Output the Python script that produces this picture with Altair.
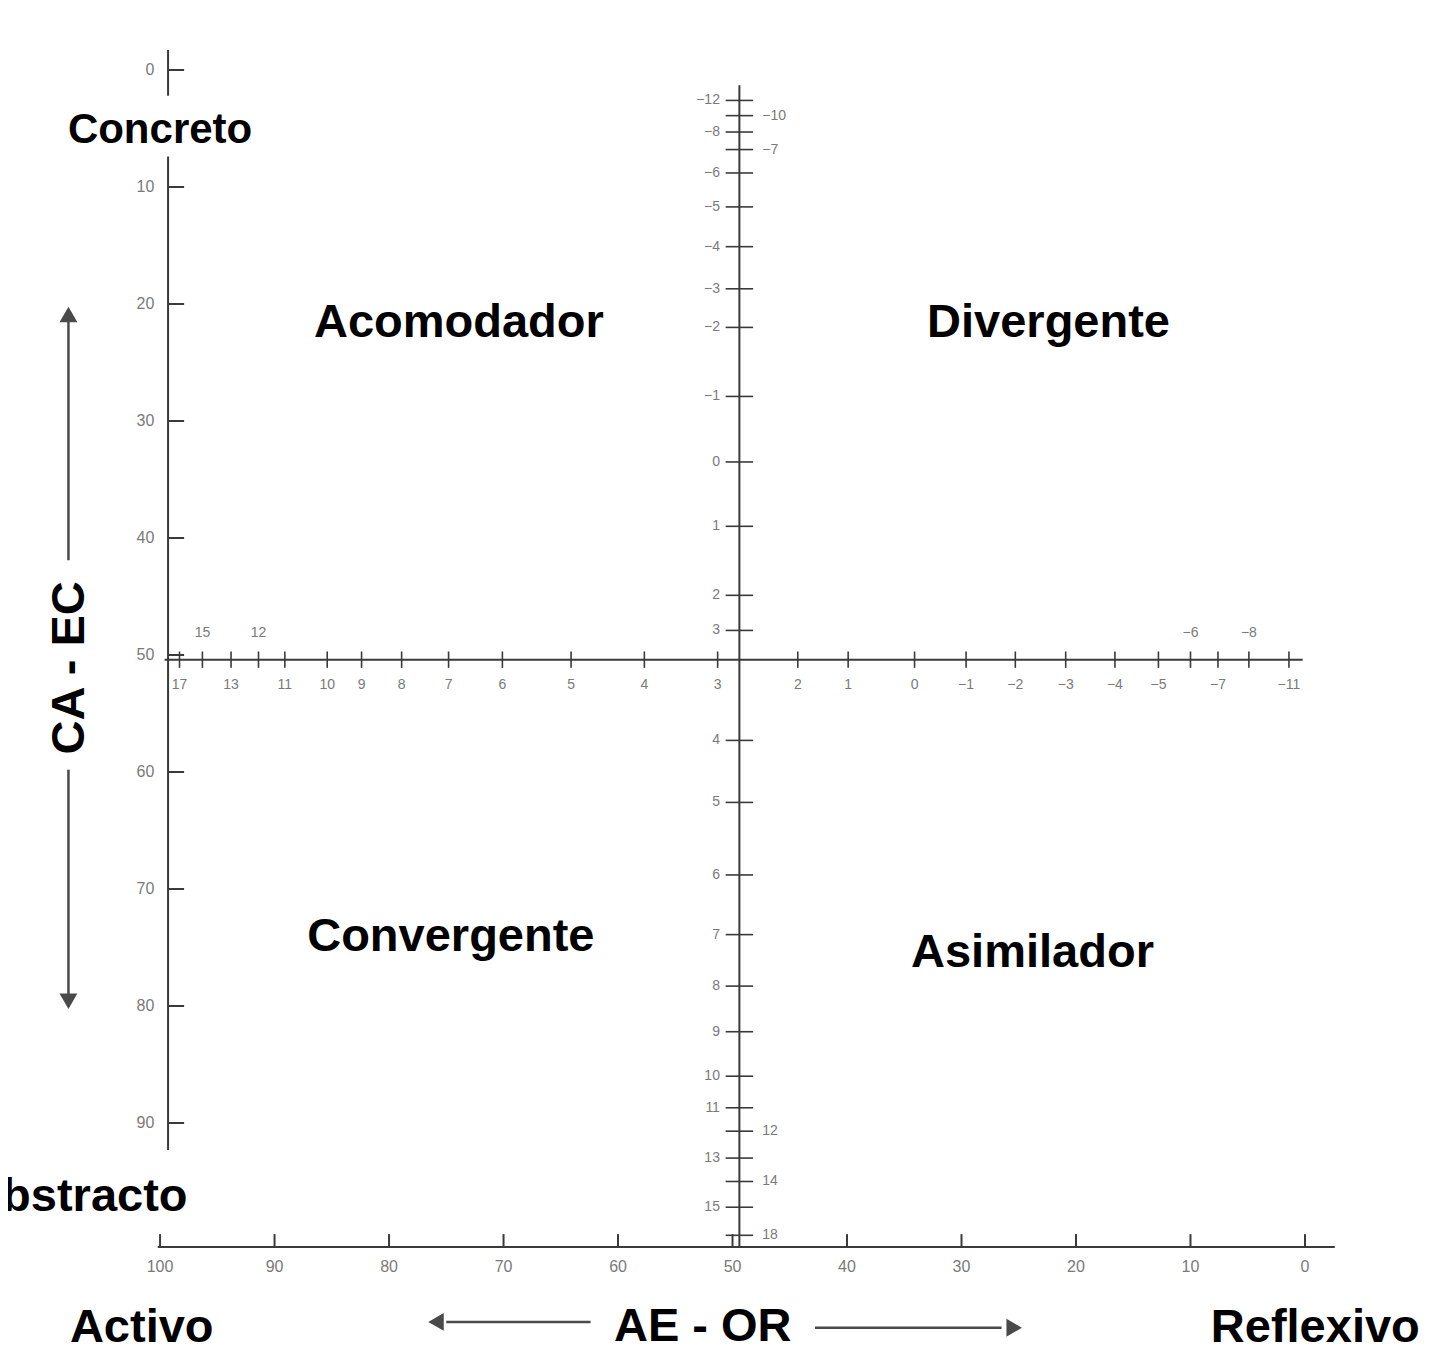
import altair as alt
import pandas as pd

# ---------------- data ----------------
# outer percentile scales
left_pct = [0, 10, 20, 30, 40, 50, 60, 70, 80, 90]          # CA-EC percentile (top -> bottom)
bottom_pct = [100, 90, 80, 70, 60, 50, 40, 30, 20, 10, 0]   # AE-OR percentile (left -> right)

# CA-EC raw scores on the central vertical axis and their percentile position
ca_ec_scores = [-12, -10, -8, -7, -6, -5, -4, -3, -2, -1, 0, 1, 2, 3,
                4, 5, 6, 7, 8, 9, 10, 11, 12, 13, 14, 15, 18]
ca_ec_pct = [2.6, 3.9, 5.3, 6.8, 8.8, 11.7, 15.1, 18.7, 22.0, 27.9, 33.5, 39.0, 44.9, 47.9,
             57.3, 62.6, 68.8, 73.9, 78.3, 82.2, 86.0, 88.7, 90.7, 93.0, 95.0, 97.2, 99.6]
ca_ec_side = ["L", "R", "L", "R", "L", "L", "L", "L", "L", "L", "L", "L", "L", "L",
              "L", "L", "L", "L", "L", "L", "L", "L", "R", "L", "R", "L", "R"]

# AE-OR raw scores on the central horizontal axis and their percentile position
ae_or_scores = [17, 15, 13, 12, 11, 10, 9, 8, 7, 6, 5, 4, 3, 2, 1, 0,
                -1, -2, -3, -4, -5, -6, -7, -8, -11]
ae_or_pct = [98.3, 96.3, 93.8, 91.4, 89.1, 85.4, 82.4, 78.9, 74.8, 70.1, 64.1, 57.7, 51.3,
             44.3, 39.9, 34.1, 29.6, 25.3, 20.9, 16.6, 12.8, 10.0, 7.6, 4.9, 1.4]
ae_or_side = ["B", "A", "B", "A", "B", "B", "B", "B", "B", "B", "B", "B", "B",
              "B", "B", "B", "B", "B", "B", "B", "B", "A", "B", "A", "B"]

quadrants = ["Acomodador", "Divergente", "Convergente", "Asimilador"]
quad_x = [73.9, 22.4, 74.6, 23.8]
quad_y = [21.6, 21.6, 74.1, 75.5]

# ---------------- scales ----------------
X_DOMAIN = [113.28, -10.22]
Y_DOMAIN = [110.6, -5.3]
xs = alt.Scale(domain=X_DOMAIN, nice=False, zero=False)
ys = alt.Scale(domain=Y_DOMAIN, nice=False, zero=False)
FONT = "Liberation Sans"
GRAY = "#7a7a7a"
LINE = "#3a3a3a"


def X(f="x"):
    return alt.X(f"{f}:Q", scale=xs, axis=None)


def Y(f="y"):
    return alt.Y(f"{f}:Q", scale=ys, axis=None)


def rules(df, color=LINE, width=2):
    return alt.Chart(df).mark_rule(color=color, strokeWidth=width).encode(
        x=X(), x2="x2:Q", y=Y(), y2="y2:Q")


def texts(df, size, color="black", bold=True, align="center", angle=0, baseline="middle"):
    kw = dict(fontSize=size, font=FONT, color=color, align=align, baseline=baseline,
              fontWeight="bold" if bold else "normal")
    if angle:
        kw["angle"] = angle
    return alt.Chart(df).mark_text(**kw).encode(x=X(), y=Y(), text="t:N")


layers = []

# outer left axis
AXL = 99.3
layers.append(rules(pd.DataFrame({"x": [AXL], "x2": [AXL], "y": [-1.7], "y2": [92.3]})))
layers.append(rules(pd.DataFrame({"x": [AXL] * len(left_pct), "x2": [97.9] * len(left_pct),
                                  "y": left_pct, "y2": left_pct})))
layers.append(texts(pd.DataFrame({"x": [100.5] * len(left_pct), "y": left_pct,
                                  "t": [str(v) for v in left_pct]}),
                    16, GRAY, bold=False, align="right"))

# outer bottom axis
AXB = 100.6
layers.append(rules(pd.DataFrame({"x": [100.2], "x2": [-2.6], "y": [AXB], "y2": [AXB]})))
layers.append(rules(pd.DataFrame({"x": bottom_pct, "x2": bottom_pct,
                                  "y": [AXB] * len(bottom_pct), "y2": [99.5] * len(bottom_pct)})))
layers.append(texts(pd.DataFrame({"x": bottom_pct, "y": [102.3] * len(bottom_pct),
                                  "t": [str(v) for v in bottom_pct]}),
                    16, GRAY, bold=False))

# central vertical axis (CA-EC)
CX = 49.4
layers.append(rules(pd.DataFrame({"x": [CX], "x2": [CX], "y": [1.3], "y2": [AXB]})))
layers.append(rules(pd.DataFrame({"x": [50.6] * len(ca_ec_pct), "x2": [48.2] * len(ca_ec_pct),
                                  "y": ca_ec_pct, "y2": ca_ec_pct}), width=1.6))
dfv = pd.DataFrame({"y": ca_ec_pct, "t": [str(v).replace("-", "−") for v in ca_ec_scores],
                    "side": ca_ec_side})
dl = dfv[dfv.side == "L"].assign(x=51.1)
dr = dfv[dfv.side == "R"].assign(x=47.4)
layers.append(texts(dl, 14, GRAY, bold=False, align="right"))
layers.append(texts(dr, 14, GRAY, bold=False, align="left"))

# central horizontal axis (AE-OR)
CY = 50.4
layers.append(rules(pd.DataFrame({"x": [99.6], "x2": [0.2], "y": [CY], "y2": [CY]})))
layers.append(rules(pd.DataFrame({"x": ae_or_pct, "x2": ae_or_pct,
                                  "y": [49.7] * len(ae_or_pct), "y2": [51.1] * len(ae_or_pct)}),
                    width=1.6))
dfh = pd.DataFrame({"x": ae_or_pct, "t": [str(v).replace("-", "−") for v in ae_or_scores],
                    "side": ae_or_side})
db = dfh[dfh.side == "B"].assign(y=52.6)
da = dfh[dfh.side == "A"].assign(y=48.1)
layers.append(texts(db, 14, GRAY, bold=False))
layers.append(texts(da, 14, GRAY, bold=False))

# arrows
ARC = "#4a4a4a"
layers.append(rules(pd.DataFrame({"x": [108.0, 108.0, 62.4, 42.8],
                                  "x2": [108.0, 108.0, 75.0, 26.5],
                                  "y": [41.9, 59.8, 107.0, 107.5],
                                  "y2": [21.5, 79.0, 107.0, 107.5]}), color=ARC, width=2.5))
heads = pd.DataFrame({"x": [108.0, 108.0, 75.9, 25.4], "y": [20.9, 79.6, 107.0, 107.5],
                      "shape": ["triangle-up", "triangle-down", "triangle-left", "triangle-right"]})
layers.append(alt.Chart(heads).mark_point(filled=True, size=320, color=ARC, opacity=1).encode(
    x=X(), y=Y(), shape=alt.Shape("shape:N", scale=None)))

# white box behind "Concreto"
layers.append(alt.Chart(pd.DataFrame({"x": [110.0], "x2": [91.0], "y": [2.2], "y2": [7.4]}))
              .mark_rect(color="white").encode(x=X(), x2="x2:Q", y=Y(), y2="y2:Q"))

# big labels
layers.append(texts(pd.DataFrame({"x": [100.0], "y": [5.1], "t": ["Concreto"]}), 42))
layers.append(texts(pd.DataFrame({"x": [97.6], "y": [96.3], "t": ["Abstracto"]}), 47, align="right"))
layers.append(texts(pd.DataFrame({"x": [101.6, 52.6, -0.9], "y": [107.5, 107.4, 107.5],
                                  "t": ["Activo", "AE - OR", "Reflexivo"]}), 47))
layers.append(texts(pd.DataFrame({"x": [107.9], "y": [51.1], "t": ["CA - EC"]}), 47, angle=270))
layers.append(texts(pd.DataFrame({"x": quad_x, "y": quad_y, "t": quadrants}), 47))

chart = alt.layer(*layers).properties(
    width=1414, height=1356,
    autosize=alt.AutoSizeParams(type="none"),
    padding=0,
    background="white",
).configure_view(stroke=None)

chart.save("out.html", embed_options={"renderer": "svg", "actions": False})
